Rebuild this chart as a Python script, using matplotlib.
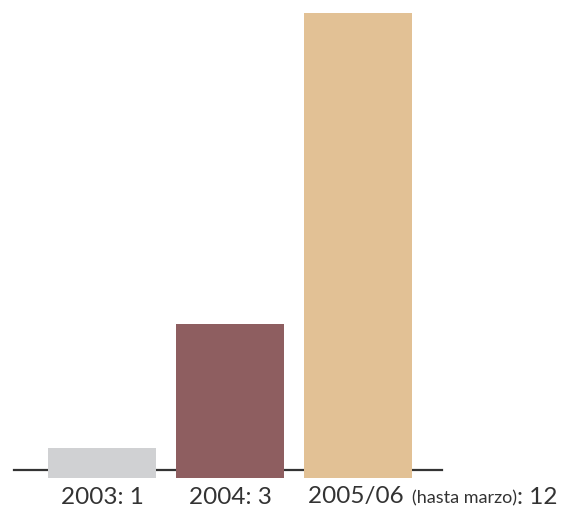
import matplotlib
matplotlib.use("Agg")
import matplotlib.pyplot as plt

# Data
years = ["2003", "2004", "2005/06"]
counts = [1, 3, 12]
# bar heights as drawn in the original (not proportional to counts)
bar_heights = [0.77, 3.97, 12]
colors = ["#d0d1d3", "#8e5e60", "#e2c195"]

plt.rcParams["font.family"] = ["Lato", "DejaVu Sans"]

W, H = 576, 516
fig = plt.figure(figsize=(W / 100, H / 100), dpi=100)
ax = fig.add_axes([0, (H - 478) / H, 1, (478 - 13) / H])

xs = list(range(len(years)))
ax.bar(xs, bar_heights, width=0.84375, color=colors, zorder=2)

# baseline
base_y = 8 / 465 * 12
ax.plot([-0.6875, 2.656], [base_y, base_y], color="#333333", lw=1.6, zorder=1)

ax.set_xlim(-102 / 128, (W - 102) / 128)
ax.set_ylim(0, 12)
ax.axis("off")

# labels below bars
label_y = -19 / 465 * 12
text_color = "#333333"
fs = 17.5
fw = "normal"
for x, year, n in zip(xs[:2], years[:2], counts[:2]):
    ax.text(x, label_y, f"{year}: {n}", ha="center", va="center",
            fontsize=fs, fontweight=fw, color=text_color, clip_on=False)

# last label with smaller parenthetical
fig.canvas.draw()
r = fig.canvas.get_renderer()
t1 = ax.text(xs[2] - 0.84375 / 2 + 4 / 128, label_y, years[2] + " ",
             ha="left", va="center", fontsize=fs, fontweight=fw,
             color=text_color, clip_on=False)
bb = t1.get_window_extent(r)
inv = ax.transData.inverted()
x2 = inv.transform((bb.x1 + 2, 0))[0]
t2 = ax.text(x2, label_y - 0.03, "(hasta marzo)", ha="left", va="center",
             fontsize=13, fontweight=fw, color=text_color, clip_on=False)
bb2 = t2.get_window_extent(r)
x3 = inv.transform((bb2.x1, 0))[0]
ax.text(x3, label_y, f": {counts[2]}", ha="left", va="center",
        fontsize=fs, fontweight=fw, color=text_color, clip_on=False)

fig.savefig("out.png", dpi=100)
